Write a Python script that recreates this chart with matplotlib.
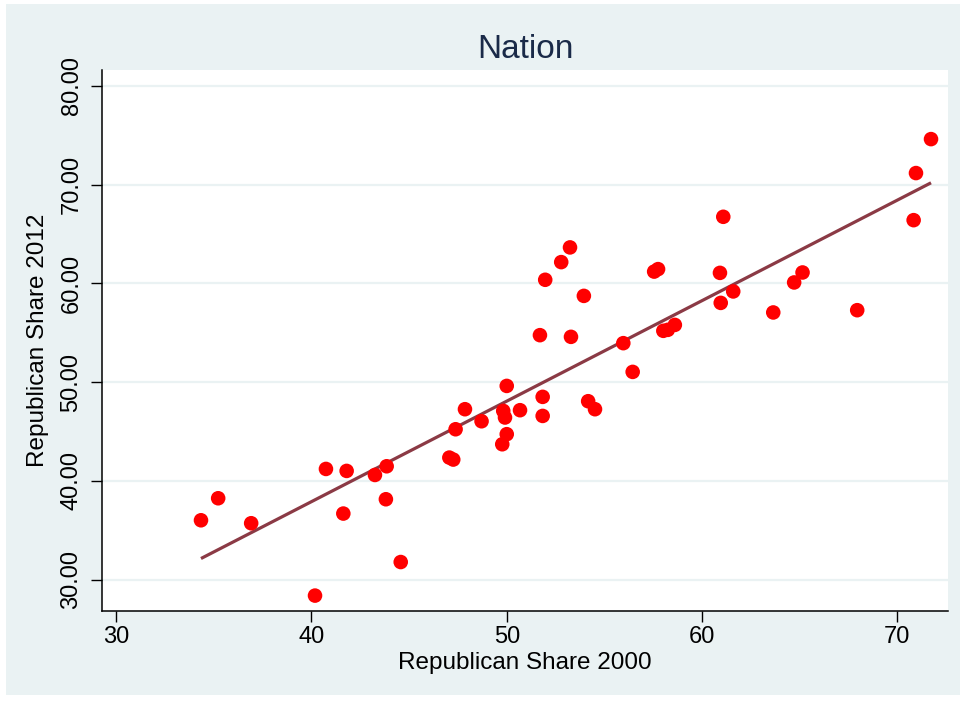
import matplotlib
matplotlib.use("Agg")
import matplotlib.pyplot as plt
from matplotlib.patches import Rectangle
import numpy as np

plt.rcParams['font.family'] = ['Liberation Sans', 'DejaVu Sans']

# Republican vote share by state, 2000 vs 2012
share_2000 = [34.34, 35.22, 36.91, 40.74, 41.80, 41.63, 43.25, 43.85, 43.81, 44.57,
              40.18, 50.00, 47.86, 47.38, 48.71, 49.82, 49.91, 50.68, 51.84, 51.84,
              50.00, 49.77, 47.06, 47.26, 54.17, 54.52, 53.24, 52.79, 51.97, 53.95,
              51.70, 53.29, 55.97, 56.45, 57.55, 57.75, 58.02, 58.25, 58.61, 60.92,
              60.96, 61.60, 63.65, 64.72, 65.15, 71.73, 70.96, 70.84, 67.95, 61.09]
share_2012 = [36.01, 38.24, 35.71, 41.21, 41.01, 36.69, 40.60, 41.48, 38.14, 31.78,
              28.38, 49.62, 47.26, 45.23, 46.04, 47.09, 46.42, 47.16, 48.51, 46.58,
              44.73, 43.71, 42.36, 42.16, 48.07, 47.26, 63.65, 62.16, 60.37, 58.74,
              54.76, 54.59, 53.95, 51.04, 61.20, 61.45, 55.20, 55.30, 55.80, 61.07,
              58.03, 59.19, 57.06, 60.10, 61.11, 74.62, 71.18, 66.41, 57.29, 66.75]

x_ticks = [30, 40, 50, 60, 70]
y_ticks = [30, 40, 50, 60, 70, 80]
y_tick_labels = ["30.00", "40.00", "50.00", "60.00", "70.00", "80.00"]

bg = "#EAF2F3"
navy = "#1A2A48"

fig = plt.figure(figsize=(9.62, 7.05), dpi=100, facecolor="white")
fig.patches.append(Rectangle((6 / 962, 1 - 695 / 705), 954 / 962, 691 / 705,
                             transform=fig.transFigure, facecolor=bg,
                             edgecolor="none", zorder=-10))

ax = fig.add_axes([102 / 962, 1 - 611 / 705, 846 / 962, 541 / 705])
ax.set_facecolor("white")

x = np.array(share_2000)
y = np.array(share_2012)

ax.scatter(x, y, s=110, color="#FF0000", edgecolors="none", zorder=3)

# linear fit across the observed range
slope, intercept = np.polyfit(x, y, 1)
xs = np.array([x.min(), x.max()])
ax.plot(xs, intercept + slope * xs, color="#8B3A45", lw=2.3, zorder=2,
        solid_capstyle="butt")

ax.set_xlim(29.27, 72.6)
ax.set_ylim(26.82, 81.62)

ax.set_xticks(x_ticks)
ax.set_yticks(y_ticks)
ax.set_yticklabels(y_tick_labels, rotation=90, va="center")

ax.grid(axis="y", color=bg, lw=1.6, zorder=0)
ax.grid(axis="x", visible=False)

for side in ("top", "right"):
    ax.spines[side].set_visible(False)
for side in ("left", "bottom"):
    ax.spines[side].set_color("black")
    ax.spines[side].set_linewidth(1.1)

ax.tick_params(axis="both", length=8, width=1.0, color="black",
               labelsize=17, labelcolor="black")
ax.tick_params(axis="x", pad=3)
ax.tick_params(axis="y", pad=6)

ax.set_xlabel("Republican Share 2000", fontsize=17.5, color="black", labelpad=3)
ax.set_ylabel("Republican Share 2012", fontsize=17.5, color="black", labelpad=8)
ax.set_title("Nation", fontsize=24, color=navy, pad=9)

fig.savefig("out.png", dpi=100, facecolor="white")
